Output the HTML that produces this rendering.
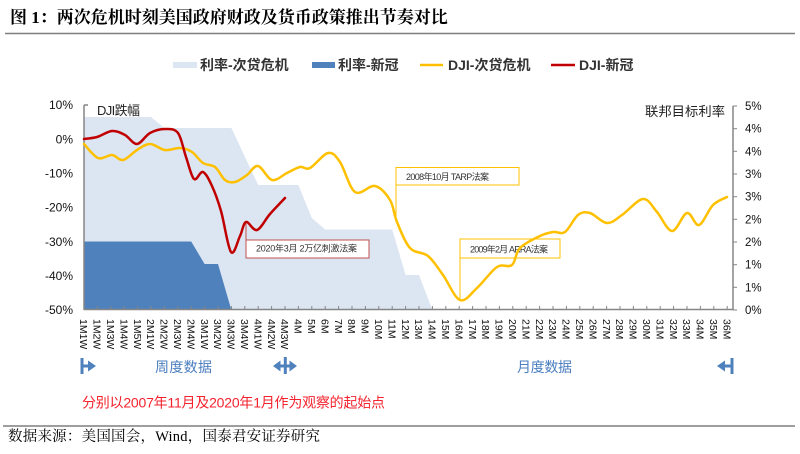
<!DOCTYPE html>
<html><head><meta charset="utf-8"><style>
html,body{margin:0;padding:0;background:#fff;}
svg{display:block;}
text{font-family:"Liberation Sans","Noto Sans CJK SC",sans-serif;}
.serif{font-family:"Liberation Serif","Noto Serif CJK SC",serif;}
</style></head><body>
<svg width="800" height="454" viewBox="0 0 800 454" xmlns="http://www.w3.org/2000/svg">
<rect width="800" height="454" fill="#fff"/>
<!-- Title -->
<text class="serif" x="10" y="23" font-size="17" font-weight="bold" fill="#000">图 1：两次危机时刻美国政府财政及货币政策推出节奏对比</text>
<line x1="5" y1="33.5" x2="795" y2="33.5" stroke="#7f7f7f" stroke-width="1.5"/>

<!-- Legend -->
<rect x="173" y="62" width="24" height="6" fill="#dce6f2"/>
<text x="200" y="70" font-size="14" font-weight="bold" fill="#333">利率-次贷危机</text>
<rect x="312" y="62" width="23" height="6" fill="#4f81bd"/>
<text x="338" y="70" font-size="14" font-weight="bold" fill="#333">利率-新冠</text>
<line x1="420" y1="65" x2="443" y2="65" stroke="#ffc000" stroke-width="2.5"/>
<text x="448" y="70" font-size="14" font-weight="bold" fill="#333">DJI-次贷危机</text>
<line x1="551" y1="65" x2="575" y2="65" stroke="#c00000" stroke-width="2.5"/>
<text x="579" y="70" font-size="14" font-weight="bold" fill="#333">DJI-新冠</text>

<!-- Areas -->
<path d="M84,310 L84,117 L151,117 L164.4,128 L231.4,128 L258.2,185 L298.4,185 L311.8,218 L325.2,229.5 L392.2,229.5 L405.6,275 L419,275 L432.4,310 Z" fill="#dce6f2"/>
<path d="M84,310 L84,241.5 L191.2,241.5 L204.6,264 L218,264 L231.4,310 Z" fill="#4f81bd"/>

<!-- Axes -->
<g stroke="#868686" stroke-width="1.5" fill="none">
<line x1="84" y1="105" x2="84" y2="310"/>
<line x1="84" y1="105" x2="88" y2="105"/>
<line x1="84" y1="309.5" x2="733" y2="309.5"/>
<line x1="733" y1="106" x2="733" y2="310"/>
</g>
<g stroke="#868686" stroke-width="1">
<line x1="733" y1="106" x2="737" y2="106"/>
<line x1="733" y1="128.7" x2="737" y2="128.7"/>
<line x1="733" y1="151.3" x2="737" y2="151.3"/>
<line x1="733" y1="174" x2="737" y2="174"/>
<line x1="733" y1="196.7" x2="737" y2="196.7"/>
<line x1="733" y1="219.3" x2="737" y2="219.3"/>
<line x1="733" y1="242" x2="737" y2="242"/>
<line x1="733" y1="264.7" x2="737" y2="264.7"/>
<line x1="733" y1="287.3" x2="737" y2="287.3"/>
<line x1="733" y1="310" x2="737" y2="310"/>
</g>
<path stroke="#868686" stroke-width="1" fill="none" d="M97.4,306V309.5M110.8,306V309.5M124.2,306V309.5M137.6,306V309.5M151,306V309.5M164.4,306V309.5M177.8,306V309.5M191.2,306V309.5M204.6,306V309.5M218,306V309.5M231.4,306V309.5M244.8,306V309.5M258.2,306V309.5M271.6,306V309.5M285,306V309.5M298.4,306V309.5M311.8,306V309.5M325.2,306V309.5M338.6,306V309.5M352,306V309.5M365.4,306V309.5M378.8,306V309.5M392.2,306V309.5M405.6,306V309.5M419,306V309.5M432.4,306V309.5M445.8,306V309.5M459.2,306V309.5M472.6,306V309.5M486,306V309.5M499.4,306V309.5M512.8,306V309.5M526.2,306V309.5M539.6,306V309.5M553,306V309.5M566.4,306V309.5M579.8,306V309.5M593.2,306V309.5M606.6,306V309.5M620,306V309.5M633.4,306V309.5M646.8,306V309.5M660.2,306V309.5M673.6,306V309.5M687,306V309.5M700.4,306V309.5M713.8,306V309.5M727.2,306V309.5"/>

<!-- Left axis labels -->
<g font-size="12" fill="#111" text-anchor="end">
<text x="73" y="109.2">10%</text>
<text x="73" y="143.4">0%</text>
<text x="73" y="177.5">-10%</text>
<text x="73" y="211.7">-20%</text>
<text x="73" y="245.9">-30%</text>
<text x="73" y="280">-40%</text>
<text x="73" y="314.2">-50%</text>
</g>
<!-- Right axis labels -->
<g font-size="11.5" fill="#111">
<text x="745" y="110">5%</text>
<text x="745" y="132.7">4%</text>
<text x="745" y="155.3">4%</text>
<text x="745" y="178">3%</text>
<text x="745" y="200.7">3%</text>
<text x="745" y="223.3">2%</text>
<text x="745" y="246">2%</text>
<text x="745" y="268.7">1%</text>
<text x="745" y="291.3">1%</text>
<text x="745" y="314">0%</text>
</g>
<text x="97" y="115" font-size="13" fill="#222" textLength="43">DJI跌幅</text>
<text x="645" y="116" font-size="13.3" fill="#222" textLength="80">联邦目标利率</text>

<!-- X labels -->
<g font-size="10.5" fill="#111">
<text transform="translate(84,319) rotate(90)" y="3.8">1M1W</text>
<text transform="translate(97.4,319) rotate(90)" y="3.8">1M2W</text>
<text transform="translate(110.8,319) rotate(90)" y="3.8">1M3W</text>
<text transform="translate(124.2,319) rotate(90)" y="3.8">1M4W</text>
<text transform="translate(137.6,319) rotate(90)" y="3.8">1M5W</text>
<text transform="translate(151,319) rotate(90)" y="3.8">2M1W</text>
<text transform="translate(164.4,319) rotate(90)" y="3.8">2M2W</text>
<text transform="translate(177.8,319) rotate(90)" y="3.8">2M3W</text>
<text transform="translate(191.2,319) rotate(90)" y="3.8">2M4W</text>
<text transform="translate(204.6,319) rotate(90)" y="3.8">3M1W</text>
<text transform="translate(218,319) rotate(90)" y="3.8">3M2W</text>
<text transform="translate(231.4,319) rotate(90)" y="3.8">3M3W</text>
<text transform="translate(244.8,319) rotate(90)" y="3.8">3M4W</text>
<text transform="translate(258.2,319) rotate(90)" y="3.8">4M1W</text>
<text transform="translate(271.6,319) rotate(90)" y="3.8">4M2W</text>
<text transform="translate(285,319) rotate(90)" y="3.8">4M3W</text>
<text transform="translate(298.4,319) rotate(90)" y="3.8">4M</text>
<text transform="translate(311.8,319) rotate(90)" y="3.8">5M</text>
<text transform="translate(325.2,319) rotate(90)" y="3.8">6M</text>
<text transform="translate(338.6,319) rotate(90)" y="3.8">7M</text>
<text transform="translate(352,319) rotate(90)" y="3.8">8M</text>
<text transform="translate(365.4,319) rotate(90)" y="3.8">9M</text>
<text transform="translate(378.8,319) rotate(90)" y="3.8">10M</text>
<text transform="translate(392.2,319) rotate(90)" y="3.8">11M</text>
<text transform="translate(405.6,319) rotate(90)" y="3.8">12M</text>
<text transform="translate(419,319) rotate(90)" y="3.8">13M</text>
<text transform="translate(432.4,319) rotate(90)" y="3.8">14M</text>
<text transform="translate(445.8,319) rotate(90)" y="3.8">15M</text>
<text transform="translate(459.2,319) rotate(90)" y="3.8">16M</text>
<text transform="translate(472.6,319) rotate(90)" y="3.8">17M</text>
<text transform="translate(486,319) rotate(90)" y="3.8">18M</text>
<text transform="translate(499.4,319) rotate(90)" y="3.8">19M</text>
<text transform="translate(512.8,319) rotate(90)" y="3.8">20M</text>
<text transform="translate(526.2,319) rotate(90)" y="3.8">21M</text>
<text transform="translate(539.6,319) rotate(90)" y="3.8">22M</text>
<text transform="translate(553,319) rotate(90)" y="3.8">23M</text>
<text transform="translate(566.4,319) rotate(90)" y="3.8">24M</text>
<text transform="translate(579.8,319) rotate(90)" y="3.8">25M</text>
<text transform="translate(593.2,319) rotate(90)" y="3.8">26M</text>
<text transform="translate(606.6,319) rotate(90)" y="3.8">27M</text>
<text transform="translate(620,319) rotate(90)" y="3.8">28M</text>
<text transform="translate(633.4,319) rotate(90)" y="3.8">29M</text>
<text transform="translate(646.8,319) rotate(90)" y="3.8">30M</text>
<text transform="translate(660.2,319) rotate(90)" y="3.8">31M</text>
<text transform="translate(673.6,319) rotate(90)" y="3.8">32M</text>
<text transform="translate(687,319) rotate(90)" y="3.8">33M</text>
<text transform="translate(700.4,319) rotate(90)" y="3.8">34M</text>
<text transform="translate(713.8,319) rotate(90)" y="3.8">35M</text>
<text transform="translate(727.2,319) rotate(90)" y="3.8">36M</text>
</g>

<!-- Annotation boxes -->
<line x1="246" y1="222" x2="246" y2="240" stroke="#c0504d" stroke-width="1"/>
<rect x="246" y="240" width="123" height="18" fill="#fff" stroke="#c0504d" stroke-width="1"/>
<text x="256" y="251.5" font-size="9" fill="#333" textLength="101">2020年3月  2万亿刺激法案</text>

<line x1="396" y1="185" x2="396" y2="222" stroke="#ffc000" stroke-width="1"/>
<rect x="396" y="167.5" width="123" height="17.5" fill="#fff" stroke="#ffc000" stroke-width="1"/>
<text x="406" y="180" font-size="9" fill="#333" textLength="83">2008年10月 TARP法案</text>

<line x1="460" y1="258" x2="460" y2="300" stroke="#ffc000" stroke-width="1"/>
<rect x="460" y="239" width="100" height="19" fill="none" stroke="#ffc000" stroke-width="1"/>
<text x="470" y="252.5" font-size="9" fill="#333" textLength="78">2009年2月 ARRA法案</text>

<!-- Series lines -->
<path fill="none" stroke="#ffc000" stroke-width="2.5" stroke-linejoin="round" stroke-linecap="round" d="M84,144 C86.3,146.3 93.3,156.2 98,158 S107.8,154.7 112,155 S118.8,160.8 123,160 S132.5,152.7 137,150 S145.3,144 150,144 S160,149.3 165,150 S175.5,147.7 180,148 S188.2,149.5 192,152 S199.2,160.5 203,163 S211.3,164.2 215,167 S221.7,177.5 225,180 S231.3,182.8 235,182 S243.2,177.7 247,175 S253.8,165.2 258,166 S267.2,178.8 272,180 S282.3,175.2 287,173 S296.2,167.8 300,167 S305.3,170.3 310,168 S323,154 328,153 S335.5,155.5 340,162 S349.2,188 355,192 S369.2,184.7 375,186 S386.3,194 390,200 S393.7,214 397,222 S404.8,242.3 410,248 S422.5,251.5 428,256 S437.7,267.7 443,275 S454.3,297.8 460,300 S470.8,293.5 477,288 S491.2,270.8 497,267 S508.2,268.2 512,265 S515.3,252.8 520,248 S534.5,238.7 540,236 S548.8,232.7 553,232 S560.8,234.8 565,232 S573.8,218.2 578,215 S585.2,211.7 590,213 S601.7,222.7 607,223 S616,219 622,215 S637.2,199.5 643,199 S652.2,206.7 657,212 S667,230.8 672,231 S682.5,214 687,213 S694.7,226.3 699,225 S708.3,209.7 713,205 S724.7,198.3 727,197"/>
<path fill="none" stroke="#c00000" stroke-width="2.5" stroke-linejoin="round" stroke-linecap="round" d="M84,139 C86.2,138.7 92.3,138.3 97,137 S107.3,131.3 112,131 S120.8,132.8 125,135 S132.8,144.3 137,144 S145.3,135.5 150,133 S160.3,129 165,129 S174.5,128.3 178,133 S183.3,149.3 186,157 S191.2,176.5 194,179 S200,170.8 203,172 S209,179.5 212,186 S217.8,200 221,211 S227.8,247.8 231,252 S237.5,241 240,236 S243.2,223 246,222 S253,231.3 257,230 S265.3,219.3 270,214 S282.5,200.7 285,198"/>

<!-- Period arrows -->
<g fill="#4f81bd">
<rect x="80.5" y="358" width="3" height="16"/>
<rect x="83" y="364.5" width="6" height="3"/>
<polygon points="88,360.5 96,366 88,371.5"/>
<polygon points="273,366 280.5,360.5 280.5,371.5"/>
<rect x="280" y="364.5" width="10" height="3"/>
<polygon points="289.5,360.5 297,366 289.5,371.5"/>
<rect x="283.8" y="357" width="3" height="17"/>
<polygon points="717,366 725,360.5 725,371.5"/>
<rect x="724" y="364.5" width="7" height="3"/>
<rect x="730.5" y="358" width="3" height="16"/>
</g>
<text x="155" y="372" font-size="14" fill="#4a7dbf" textLength="57">周度数据</text>
<text x="517" y="372" font-size="14" fill="#4a7dbf" textLength="55">月度数据</text>

<!-- Note -->
<text x="82" y="407.5" font-size="14" fill="#f5222d" textLength="303">分别以2007年11月及2020年1月作为观察的起始点</text>

<line x1="3" y1="426" x2="795" y2="426" stroke="#7f7f7f" stroke-width="1.5"/>
<text class="serif" x="8" y="441" font-size="14.5" fill="#000" textLength="312">数据来源：美国国会，Wind，国泰君安证券研究</text>
</svg>
</body></html>
